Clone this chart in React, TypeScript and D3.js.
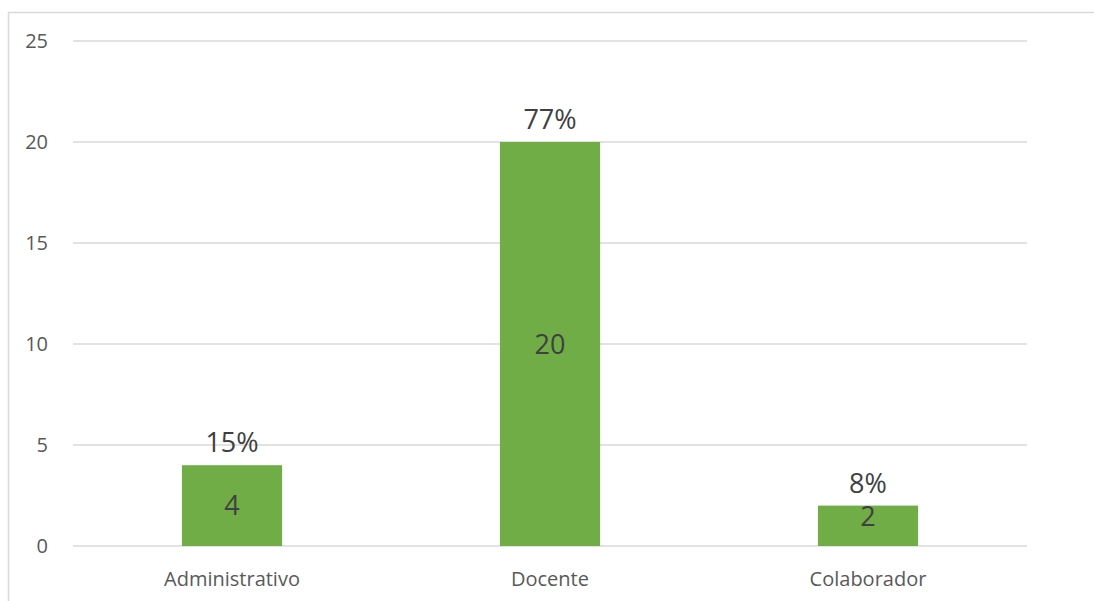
import React from "react";
import * as d3 from "d3";

const categories = ["Administrativo", "Docente", "Colaborador"];
const counts = [4, 20, 2];
const percentLabels = ["15%", "77%", "8%"];
const yTicks = [0, 5, 10, 15, 20, 25];

const W = 1094;
const H = 601;
const margin = { left: 73, right: 67, top: 41, bottom: 55 };
const FONT = "'Open Sans', sans-serif";

export default function App() {
  const x = d3
    .scaleBand<string>()
    .domain(categories)
    .range([margin.left, W - margin.right])
    .paddingInner(0.685)
    .paddingOuter(0.3425);
  const y = d3.scaleLinear().domain([0, 25]).range([H - margin.bottom, margin.top]);

  return (
    <svg
      width={W}
      height={H}
      style={{ position: "absolute", left: 0, top: 0, background: "#fff" }}
    >
      {/* chart frame */}
      <rect x={8.5} y={12.5} width={W + 10} height={H + 10} fill="none" stroke="#d9d9d9" strokeWidth={1.5} />
      {yTicks.map((t) => (
        <g key={t}>
          <line
            x1={margin.left}
            x2={W - margin.right}
            y1={y(t)}
            y2={y(t)}
            stroke="#d9d9d9"
            strokeWidth={1.5}
          />
          <text
            x={48}
            y={y(t)}
            dy="0.35em"
            textAnchor="end"
            fontFamily={FONT}
            fontSize={20}
            fill="#595959"
          >
            {t}
          </text>
        </g>
      ))}
      {categories.map((c, i) => {
        const x0 = x(c)!;
        const bw = x.bandwidth();
        const top = y(counts[i]);
        const base = y(0);
        const mid = Math.min((top + base) / 2, base - 30);
        return (
          <g key={c}>
            <rect x={x0} y={top} width={bw} height={base - top} fill="#70ad47" />
            <text
              x={x0 + bw / 2}
              y={mid}
              dy="0.36em"
              textAnchor="middle"
              fontFamily={FONT}
              fontSize={27}
              fill="#404040"
            >
              {counts[i]}
            </text>
            <text
              x={x0 + bw / 2}
              y={top - 13}
              textAnchor="middle"
              fontFamily={FONT}
              fontSize={27}
              fill="#404040"
            >
              {percentLabels[i]}
            </text>
            <text
              x={x0 + bw / 2}
              y={586}
              textAnchor="middle"
              fontFamily={FONT}
              fontSize={20}
              fill="#595959"
            >
              {c}
            </text>
          </g>
        );
      })}
    </svg>
  );
}
